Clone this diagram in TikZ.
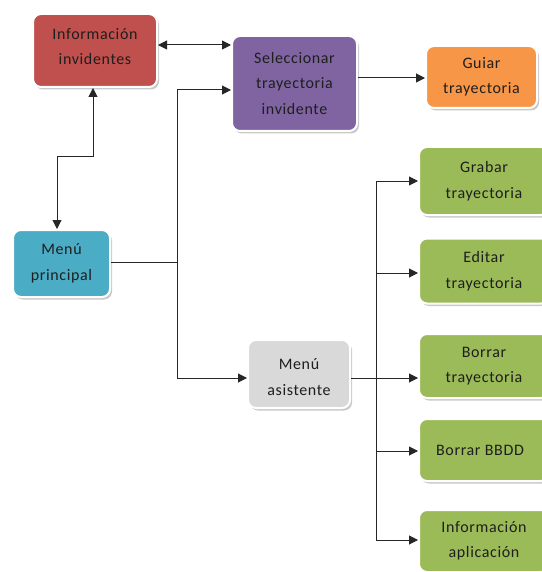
\documentclass[tikz,border=0pt]{standalone}
\usepackage{fontspec}
\setmainfont[LetterSpace=4]{Carlito}
\usetikzlibrary{shadows,arrows.meta}
\definecolor{cred}{HTML}{C0504D}
\definecolor{cpurple}{HTML}{8064A2}
\definecolor{corange}{HTML}{F79646}
\definecolor{cblue}{HTML}{4BACC6}
\definecolor{cgrey}{HTML}{D9D9D9}
\definecolor{cgreen}{HTML}{9BBB59}
\definecolor{ctext}{HTML}{1E1E1E}
\tikzset{
  box/.style={draw=white, line width=2pt, rounded corners=8pt, align=center,
    text=ctext, font=\fontsize{16}{25.5}\selectfont, inner sep=0pt,
    drop shadow={shadow xshift=2pt, shadow yshift=-2.5pt, opacity=0.35, fill=black!60}},
  txt/.style={align=center, text=ctext, font=\fontsize{16}{25.5}\selectfont, inner sep=0pt},
  conn/.style={line width=1pt, black!85},
  arr/.style={conn, -{Triangle[length=9pt,width=9pt]}},
  darr/.style={conn, {Triangle[length=9pt,width=9pt]}-{Triangle[length=9pt,width=9pt]}},
}
\begin{document}
\begin{tikzpicture}[x=1pt,y=-1pt]
\useasboundingbox[fill=white] (0,0) rectangle (541,572);
% nodes (center, width, height)
\node[box, fill=cred, minimum width=124pt, minimum height=73pt] (info) at (95,50.5) {};
\node[txt] (infot) at (95,46.5) {Información\\invidentes};
\node[box, fill=cpurple, minimum width=125pt, minimum height=95pt] (sel) at (294.5,83.5) {Seleccionar\\trayectoria\\invidente};
\node[box, fill=corange, minimum width=111pt, minimum height=62pt] (guiar) at (481.5,77) {Guiar\\trayectoria};
\node[box, fill=cblue, minimum width=97pt, minimum height=67pt] (mp) at (61.5,263.5) {Menú\\principal};
\node[box, fill=cgrey, minimum width=102pt, minimum height=68pt] (ma) at (299,374) {};
\node[txt] (mat) at (299,377) {Menú\\asistente};
\node[box, fill=cgreen, minimum width=130pt, minimum height=68pt, text width=122pt] (grabar) at (484,181) {Grabar\\trayectoria};
\node[box, fill=cgreen, minimum width=130pt, minimum height=65pt, text width=122pt] (editar) at (484,271) {Editar\\trayectoria};
\node[box, fill=cgreen, minimum width=130pt, minimum height=64pt, text width=122pt] (borrar) at (484,366) {Borrar\\trayectoria};
\node[box, fill=cgreen, minimum width=130pt, minimum height=62pt, text width=122pt, anchor=north] (bbdd) at (484,418) {};
\node[txt, anchor=base] (bbddt) at (480,455) {Borrar BBDD};
\node[box, fill=cgreen, minimum width=130pt, minimum height=62pt, text width=122pt] (infoap) at (484,541) {Información\\aplicación};
% junction coordinates
\coordinate (j1) at (177,262);
\coordinate (j2) at (376,378);
% connectors
\draw[darr] (info.east |- 0,45) -- (sel.west |- 0,45);
\draw[darr] (info.south -| 93,0) -- (93,157) -- (57,157) -- (mp.north -| 57,0);
\draw[conn] (mp.east |- j1) -- (j1);
\draw[arr] (j1) -- (177,90) -- (sel.west |- 0,90);
\draw[arr] (j1) -- (177,378) -- (ma.west |- 0,378);
\draw[arr] (sel.east |- 0,78) -- (guiar.west |- 0,78);
\draw[conn] (ma.east |- j2) -- (j2);
\draw[arr] (j2) -- (376,181) -- (grabar.west |- 0,181);
\draw[arr] (376,273) -- (editar.west |- 0,273);
\draw[arr] (j2) -- (borrar.west |- j2);
\draw[arr] (376,451) -- (bbdd.west |- 0,451);
\draw[arr] (j2) -- (376,540) -- (infoap.west |- 0,540);
\end{tikzpicture}
\end{document}
